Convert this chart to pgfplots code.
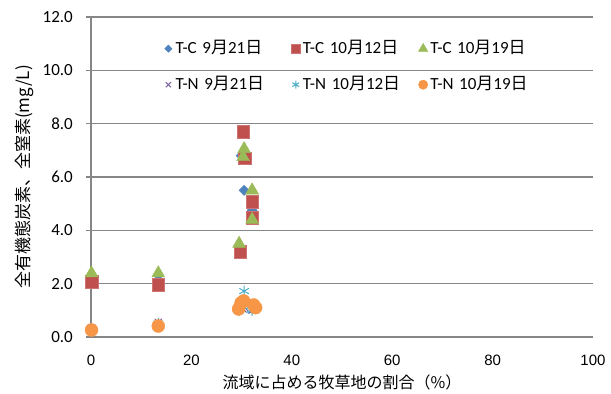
\documentclass[border=0pt]{standalone}
\usepackage{fontspec}
\setmainfont{Carlito}
\newfontfamily\cjk{Noto Sans CJK JP}
\newfontfamily\arial{Liberation Sans}
\usepackage{pgfplots}
\pgfplotsset{compat=1.18}
\definecolor{cB}{HTML}{4F81BD}
\definecolor{cR}{HTML}{C0504D}
\definecolor{cG}{HTML}{9BBB59}
\definecolor{cP}{HTML}{8064A2}
\definecolor{cC}{HTML}{4BACC6}
\definecolor{cO}{HTML}{F79646}
\definecolor{axgray}{HTML}{868686}
\begin{document}
\begin{tikzpicture}
\begin{axis}[
  scale only axis, width=502pt, height=320pt,
  xmin=0, xmax=100, ymin=0, ymax=12,
  xtick={0,20,...,100}, ytick={0,2,...,12},
  axis lines*=left,
  axis line style={draw=axgray, line width=1.6pt},
  ymajorgrids, grid style={draw=axgray, line width=1.2pt},
  tick align=outside, major tick length=5pt,
  ytick style={draw=axgray, line width=1.2pt},
  xtick style={draw=none},
  clip=false,
  /pgf/number format/assume math mode=true,
  yticklabel={\pgfmathprintnumber[fixed, fixed zerofill, precision=1]{\tick}},
  yticklabel style={font=\fontsize{17}{17}\selectfont, anchor=east, inner sep=0pt, xshift=-13pt},
  xticklabel style={font=\arial\fontsize{15}{15}\selectfont, anchor=center, inner sep=0pt, yshift=-18pt},
  xlabel={\cjk 流域に占める牧草地の割合（\%）},
  xlabel style={font=\fontsize{16}{16}\selectfont, at={(axis description cs:0.5,-0.1406)}, anchor=center, inner sep=0pt},
  ylabel={\cjk 全有機態炭素、全窒素(mg/L)},
  ylabel style={font=\fontsize{17}{17}\selectfont, at={(axis description cs:-0.1335,0.5)}, anchor=center, rotate=0, inner sep=0pt},
  legend columns=3,
  legend style={at={(rel axis cs:0.1394,0.925)}, anchor=north west, draw=none, fill=none, inner sep=0pt,
    row sep=21pt, column sep=0pt, font=\fontsize{17}{17}\selectfont,
    nodes={inner sep=0pt, text width=113pt, align=left, text height=12pt, text depth=3pt}},
  legend cell align=left,
  legend image code/.code={\path (-7pt,0pt) (7pt,0pt); \path[#1, every mark/.append style={scale=0.72}] plot coordinates {(0pt,0pt)};},
]
\addplot[only marks, mark=square*, mark size=3.6pt, mark options={rotate=45, fill=cB, draw=cB}] coordinates {
 (0.1,2.2) (13.4,2.15) (29.9,6.8) (30.5,5.5) (32.1,4.75) (29.6,3.35) (32.1,4.5)};
\addlegendentry{T-C 9{\cjk 月}21{\cjk 日}}
\addplot[only marks, mark=square*, mark size=6.3pt, mark options={fill=cR, draw=cR!80!white}] coordinates {
 (0.1,2.07) (13.4,1.97) (29.7,3.2) (30.3,7.7) (30.6,6.7) (32.1,5.07) (32.1,4.47)};
\addlegendentry{T-C 10{\cjk 月}12{\cjk 日}}
\addplot[only marks, mark=triangle*, mark size=7.5pt, mark options={fill=cG, draw=cG}] coordinates {
 (0.1,2.39) (13.4,2.39) (29.5,3.5) (30.5,7.05) (30.3,6.75) (32.1,5.5) (32.1,4.4)};
\addlegendentry{T-C 10{\cjk 月}19{\cjk 日}}
\addplot[only marks, mark=x, mark size=5pt, mark options={draw=cP, line width=1pt}] coordinates {
 (0.1,0.35) (13.4,0.55) (29.5,1.0) (30.3,1.05) (30.6,1.1) (32.1,1.0) (32.4,1.05)};
\addlegendentry{T-N 9{\cjk 月}21{\cjk 日}}
\addplot[only marks, mark=asterisk, mark size=5.5pt, mark options={draw=cC, line width=1pt}] coordinates {
 (0.1,0.3) (13.4,0.5) (29.5,1.0) (30.5,1.72) (30.3,1.15) (32.1,1.0) (32.1,1.05)};
\addlegendentry{T-N 10{\cjk 月}12{\cjk 日}}
\addplot[only marks, mark=*, mark size=6.5pt, mark options={fill=cO, draw=cO}] coordinates {
 (0.1,0.26) (13.4,0.41) (29.4,1.05) (29.9,1.28) (30.4,1.35) (32.4,1.2) (32.8,1.1)};
\addlegendentry{T-N 10{\cjk 月}19{\cjk 日}}
\coordinate (bbl) at (rel axis cs:-0.1813,-0.1781);
\coordinate (btr) at (rel axis cs:1.0359,1.0531);
\end{axis}
\path (bbl) rectangle (btr);
\end{tikzpicture}
\end{document}
